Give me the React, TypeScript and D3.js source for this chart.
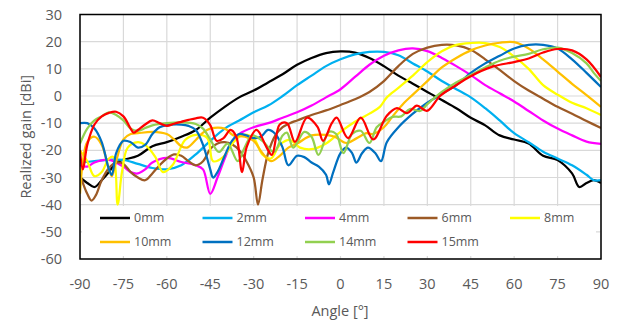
import React from "react";
import * as d3 from "d3";

// Realized gain vs. angle for several offsets, [angle (deg), gain (dBi)]
const gain0mm: [number, number][] = [
  [-90, -30], [-87.5, -32], [-85, -33.5], [-82.5, -31], [-80, -28], [-77.5, -24.5], [-75, -23.5],
  [-70, -22], [-65, -18.5], [-60, -17], [-55, -15], [-50, -12.5], [-45, -8], [-40, -4], [-35, -0.5],
  [-30, 2], [-25, 5], [-20, 8], [-15, 11.5], [-10, 14], [-5, 15.8], [0, 16.4], [5, 16], [10, 14],
  [15, 11], [20, 7.5], [25, 4.5], [30, 1.5], [35, -1.5], [40, -4.5], [45, -8], [50, -10.8],
  [55, -14.5], [60, -16], [65, -17.5], [70, -22], [75, -23.6], [80, -28.5], [82.5, -33.5],
  [85, -32], [87.5, -31], [90, -32],
];

const gain2mm: [number, number][] = [
  [-90, -24.5], [-85, -24], [-80, -23.5], [-75, -23.5], [-70, -25], [-65, -26.5], [-60, -27],
  [-55, -25.5], [-50, -21.5], [-45, -16.5], [-40, -12], [-35, -9], [-30, -6], [-25, -3.5],
  [-20, 0], [-15, 4], [-10, 7.5], [-5, 11], [0, 13.5], [5, 15.3], [10, 16.2], [15, 16.2],
  [20, 15], [25, 12], [30, 9], [35, 5.5], [40, 2.5], [45, -0.5], [50, -4.5], [55, -9],
  [60, -13.7], [65, -17], [70, -20.5], [75, -23], [80, -25.5], [85, -29], [87.5, -31], [90, -31],
];

const gain4mm: [number, number][] = [
  [-90, -25.5], [-87.5, -26], [-85, -24.5], [-80, -23.5], [-75, -26], [-72.5, -28], [-70, -28.5],
  [-67.5, -27], [-65, -24.5], [-60, -22.8], [-55, -24.3], [-50, -25.5], [-47.5, -27], [-45, -36],
  [-42.5, -30], [-40, -23], [-37.5, -17], [-35, -14], [-30, -11.5], [-25, -10], [-20, -8],
  [-15, -6], [-10, -3.5], [-5, -0.5], [0, 2.5], [5, 7], [10, 11.5], [15, 14.8], [20, 16.8],
  [25, 17.5], [30, 16.5], [35, 14], [40, 11], [45, 7.7], [50, 4], [55, 1], [60, -2], [65, -5.5],
  [70, -9], [75, -12], [80, -14.5], [85, -16.8], [90, -17.6],
];

const gain6mm: [number, number][] = [
  [-90, -29], [-87.5, -36], [-86, -38.5], [-84.5, -36.5], [-82.5, -31], [-80, -26.5], [-77.5, -24.5],
  [-75, -25], [-72.5, -28], [-70, -30], [-67.5, -31], [-65, -28.5], [-62.5, -25.5], [-60, -23],
  [-57.5, -21.5], [-55, -22], [-52.5, -24], [-50, -25.5], [-47.5, -24], [-45, -19.5], [-42.5, -17.5],
  [-40, -17], [-37.5, -17.8], [-35, -20], [-32.5, -24], [-30, -30], [-28.5, -40], [-27, -31],
  [-25, -21], [-22.5, -14.5], [-20, -11.5], [-17.5, -10], [-15, -9], [-10, -7], [-5, -5.3],
  [0, -3.3], [5, -1.2], [10, 1.5], [15, 5.5], [20, 11], [25, 15.5], [30, 17.8], [35, 18.8],
  [40, 18.6], [45, 17], [50, 13.5], [55, 9.6], [60, 5.5], [65, 2], [70, -1], [75, -4],
  [80, -6.5], [85, -9.2], [90, -11.8],
];

const gain8mm: [number, number][] = [
  [-90, -20], [-87.5, -24], [-85, -29.5], [-82.5, -28], [-80, -23], [-78.5, -22.4], [-77, -40],
  [-75.5, -28], [-73.5, -19], [-70, -17], [-67.5, -18], [-64, -22.4], [-61.3, -28], [-58, -25.4],
  [-53.7, -16.2], [-50, -14.3], [-46, -15.5], [-44, -24], [-40.5, -22.4], [-37, -17], [-33.6, -14.3],
  [-30, -15.6], [-27, -21.5], [-24, -23], [-21, -18], [-17.4, -16.2], [-14, -19], [-9.4, -19.5],
  [-5, -17.5], [0, -13.2], [5, -9.5], [10, -6.5], [13.6, -4], [16, -0.5], [20, 3], [25, 7.5],
  [30, 12.5], [35, 16.5], [40, 18.8], [45, 19.5], [50, 19.5], [55, 18], [60, 14.5], [65, 10],
  [70, 4], [75, 0.5], [80, -2.5], [85, -4.5], [90, -7],
];

const gain10mm: [number, number][] = [
  [-90, -36], [-89, -24], [-87.5, -17], [-85, -15], [-82.5, -18], [-80, -27], [-79, -29.5],
  [-77.5, -24], [-75, -16], [-72.5, -14], [-70, -13.7], [-65, -13.2], [-60, -14], [-57.5, -16],
  [-55, -18.5], [-53, -19], [-50, -16.2], [-47.5, -13.5], [-45, -12], [-40, -12], [-37, -14.5],
  [-33, -15], [-30, -16.5], [-27, -21], [-24, -24], [-21, -22], [-18, -19], [-15, -17.5],
  [-10, -14.5], [-5, -14.3], [-2, -15], [2, -17.3], [5.5, -15.6], [9, -13.7], [11, -14],
  [15, -11.5], [18, -7.5], [22, -2.5], [25, 0.5], [30, 5.5], [35, 10.5], [40, 14], [45, 16.8],
  [50, 18.6], [55, 19.6], [60, 19.8], [65, 17.5], [70, 13.5], [75, 9], [80, 4.5], [85, 0.3],
  [90, -4],
];

const gain12mm: [number, number][] = [
  [-90, -10], [-87.5, -10], [-85, -12], [-82.5, -17], [-80, -27], [-79, -29], [-77.5, -21],
  [-75, -16.5], [-72.5, -17], [-70, -19], [-67.5, -18], [-65, -14], [-62.5, -11.5], [-60, -10.7],
  [-55, -10.5], [-52.5, -11], [-50, -12.5], [-47.5, -18], [-45, -27], [-44, -30], [-42.5, -28],
  [-40, -22], [-37.5, -16.5], [-35, -14], [-32.5, -14.5], [-30, -15.5], [-27.5, -15],
  [-25, -12.5], [-22.5, -14], [-20, -19], [-18, -25.5], [-15, -22], [-12.5, -22.5], [-10, -24.5],
  [-7.5, -26], [-5, -29], [-4, -32.5], [-2.5, -28], [0, -21], [2, -19], [4, -21], [5.5, -24.5],
  [7.5, -21], [9.5, -19], [12, -21], [14, -24], [16, -17], [20, -11.5], [25, -6.5], [30, -2.5],
  [35, 0.8], [40, 4], [45, 8.5], [50, 12], [55, 14.8], [60, 17.5], [65, 18.8], [70, 18.8],
  [75, 17.5], [80, 13.5], [85, 8.5], [90, 3.3],
];

const gain14mm: [number, number][] = [
  [-90, -17.5], [-87.5, -12], [-85, -9], [-82.5, -7.5], [-80, -6], [-77.5, -7], [-75, -9],
  [-72.5, -12], [-70, -12.8], [-67.5, -11.8], [-65, -10.8], [-60, -10], [-55, -9.7], [-50, -10.3],
  [-47.5, -12], [-45, -16], [-42, -20.6], [-39, -17.5], [-35.5, -24], [-33, -18.7], [-30.5, -14.5],
  [-27, -16.5], [-23, -20.6], [-20, -14.5], [-18.5, -13.5], [-16.3, -19], [-12.5, -13.2],
  [-10, -15], [-7.6, -21.7], [-4, -13.2], [-1.5, -14], [1, -21], [4, -14], [7, -12.8],
  [10, -17.3], [12.5, -11.5], [15, -9.5], [18, -7.7], [21, -7.5], [24, -4.8], [27.5, -5.5],
  [30, -3], [35, 1.5], [40, 5], [45, 7.7], [50, 10.5], [55, 13], [60, 14.5], [65, 15.5],
  [70, 17.2], [75, 17.8], [80, 15.8], [85, 12], [87.5, 8.5], [90, 5.5],
];

const gain15mm: [number, number][] = [
  [-90, -20], [-89, -27], [-87.5, -18], [-85, -10.5], [-82.5, -7.5], [-80, -6.2], [-77.5, -5.8],
  [-75, -7.5], [-72.5, -12], [-71.5, -13.5], [-70, -12.5], [-67.5, -10.5], [-65, -9], [-62.5, -10],
  [-60, -11], [-57.5, -10.2], [-55, -9.5], [-52.5, -8.8], [-50, -8.2], [-47.5, -8], [-45, -10.7],
  [-42.8, -16.5], [-40.5, -15.6], [-38, -12.5], [-36, -15], [-34, -28], [-32.4, -18.7],
  [-29, -12.5], [-25.5, -19], [-23.7, -21.7], [-21, -10.5], [-18.5, -10], [-15.7, -16.9],
  [-11.6, -8], [-8, -11.3], [-6, -16.5], [-3, -10], [-1.3, -8], [2.6, -15.5], [7, -8],
  [11.3, -16], [16, -7.3], [19.5, -4.5], [23, -6.3], [26.4, -3.5], [29.8, -5.5], [34.4, 0],
  [39, 3.3], [45, 7.3], [52.5, 10.8], [60, 12.5], [65, 13.8], [70, 16], [75, 17.3], [80, 16.8],
  [85, 13.5], [90, 7],
];

const seriesNames = ["0mm", "2mm", "4mm", "6mm", "8mm", "10mm", "12mm", "14mm", "15mm"];
const seriesData = [gain0mm, gain2mm, gain4mm, gain6mm, gain8mm, gain10mm, gain12mm, gain14mm, gain15mm];
const seriesColors = ["#000000", "#00b0f0", "#ff00ff", "#9c5a26", "#ffff00", "#ffc000", "#0070c0", "#92d050", "#ff0000"];

const xTicks = [-90, -75, -60, -45, -30, -15, 0, 15, 30, 45, 60, 75, 90];
const yTicks = [-60, -50, -40, -30, -20, -10, 0, 10, 20, 30];

const W = 624;
const H = 325;
const left = 80;
const right = 601;
const top = 14.5;
const bottom = 259;
const font = "'Open Sans', 'Noto Sans', sans-serif";
const textColor = "#595959";

export default function App() {
  const x = d3.scaleLinear().domain([-90, 90]).range([left, right]);
  const y = d3.scaleLinear().domain([-60, 30]).range([bottom, top]);
  const line = d3
    .line<[number, number]>()
    .x((d) => x(d[0]))
    .y((d) => y(d[1]))
    .curve(d3.curveCatmullRom.alpha(0.5));

  const legendCols = 5;
  const legendX0 = 100;
  const legendDX = 102.5;
  const legendRows = [218, 242];

  return (
    <svg
      width={W}
      height={H}
      style={{ position: "absolute", left: 0, top: 0, background: "#fff" }}
      fontFamily={font}
    >
      <defs>
        <clipPath id="plotClip">
          <rect x={left} y={top} width={right - left} height={bottom - top} />
        </clipPath>
      </defs>
      <rect width={W} height={H} fill="#fff" />
      {/* grid */}
      {xTicks.map((t) => (
        <line key={"gx" + t} x1={x(t)} x2={x(t)} y1={top} y2={bottom} stroke="#d9d9d9" strokeWidth={1.2} />
      ))}
      {yTicks.map((t) => (
        <line key={"gy" + t} x1={left} x2={right} y1={y(t)} y2={y(t)} stroke="#d9d9d9" strokeWidth={1.2} />
      ))}
      {/* curves */}
      <g clipPath="url(#plotClip)">
        {seriesData.map((d, i) => (
          <path
            key={seriesNames[i]}
            d={line(d) || ""}
            fill="none"
            stroke={seriesColors[i]}
            strokeWidth={2.25}
            strokeLinejoin="round"
          />
        ))}
      </g>
      {/* legend */}
      <rect x={82} y={206} width={514} height={50} fill="#fff" />
      {seriesNames.map((name, i) => {
        const col = i % legendCols;
        const row = Math.floor(i / legendCols);
        const lx = legendX0 + col * legendDX;
        const ly = legendRows[row];
        return (
          <g key={"lg" + name}>
            <line x1={lx} x2={lx + 30} y1={ly} y2={ly} stroke={seriesColors[i]} strokeWidth={2.5} />
            <text x={lx + 34} y={ly} dy="0.35em" fontSize={12.5} fill={textColor}>
              {name}
            </text>
          </g>
        );
      })}
      {/* frame */}
      <rect x={left} y={top} width={right - left} height={bottom - top} fill="none" stroke="#000" strokeWidth={1.5} />
      {/* axes labels */}
      {yTicks.map((t) => (
        <text key={"ty" + t} x={62} y={y(t)} dy="0.35em" textAnchor="end" fontSize={14.5} fill={textColor}>
          {t}
        </text>
      ))}
      {xTicks.map((t) => (
        <text key={"tx" + t} x={x(t)} y={289} textAnchor="middle" fontSize={14.5} fill={textColor}>
          {t}
        </text>
      ))}
      <text x={340} y={316} textAnchor="middle" fontSize={14.5} fill={textColor}>
        Angle [°]
      </text>
      <text
        transform={`translate(31, ${(top + bottom) / 2}) rotate(-90)`}
        textAnchor="middle"
        fontSize={14.5}
        fill={textColor}
      >
        Realized gain [dBi]
      </text>
    </svg>
  );
}
